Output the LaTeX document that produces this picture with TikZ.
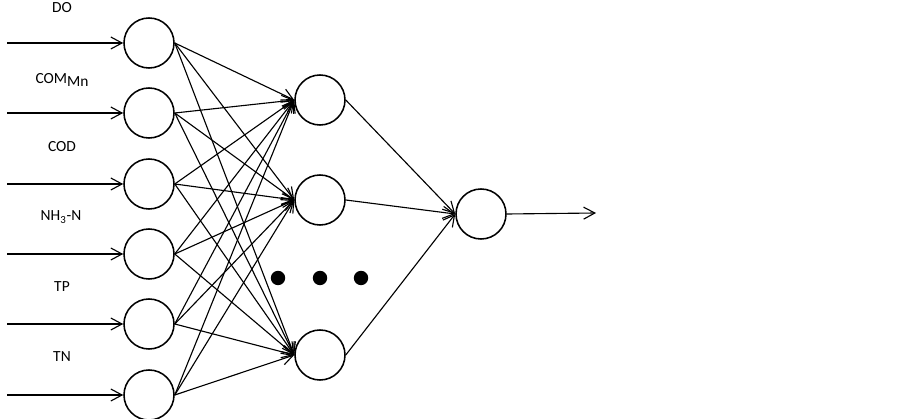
\documentclass[tikz,border=0pt]{standalone}
\usepackage{fontspec}
\setmainfont{Carlito}
\usetikzlibrary{arrows.meta}

\begin{document}
\begin{tikzpicture}[x=0.025cm, y=-0.025cm,
      neuron/.style={draw, circle, line width=1.1pt,
                     minimum size=1.25cm, inner sep=0pt},
      arr/.style={-{Straight Barb[length=2.8mm, width=3mm]}, line width=0.8pt},
      inlbl/.style={font=\fontsize{11}{13}\selectfont, inner sep=0pt},
      blob/.style={fill, circle, minimum size=0.36cm, inner sep=0pt}
    ]
    \useasboundingbox (0,0) rectangle (903,419);

    % input layer
    \foreach \y [count=\i] in {43,113,184,254,324,395} {
      \node[neuron] (in\i) at (149,\y) {};
      \coordinate (src\i) at (7,\y);
    }
    \node[inlbl] (lDO)  at (62, 8)   {DO};
    \node[inlbl] (lCOM) at (62, 80)  {COM\raisebox{-0.45ex}{Mn}};
    \node[inlbl] (lCOD) at (62, 147) {COD};
    \node[inlbl] (lNH)  at (61, 217) {NH\textsubscript{3}-N};
    \node[inlbl] (lTP)  at (62, 287) {TP};
    \node[inlbl] (lTN)  at (62, 357) {TN};

    % hidden layer
    \node[neuron] (h1) at (320, 100) {};
    \node[neuron] (h2) at (320, 200) {};
    \node[neuron] (h3) at (320, 355) {};
    \node[blob] (d1) at (278, 278) {};
    \node[blob] (d2) at (320, 278) {};
    \node[blob] (d3) at (361, 278) {};

    % output layer
    \node[neuron] (out) at (481, 214) {};
    \coordinate (res) at (596, 213);

    \foreach \i in {1,...,6} {
      \draw[arr] (src\i) -- (in\i.west);
      \foreach \j in {1,2,3}
        \draw[arr] (in\i.east) -- (h\j.west);
    }
    \foreach \j in {1,2,3}
      \draw[arr] (h\j.east) -- (out.west);
    \draw[arr] (out.east) -- (res);
  \end{tikzpicture}
\end{document}
